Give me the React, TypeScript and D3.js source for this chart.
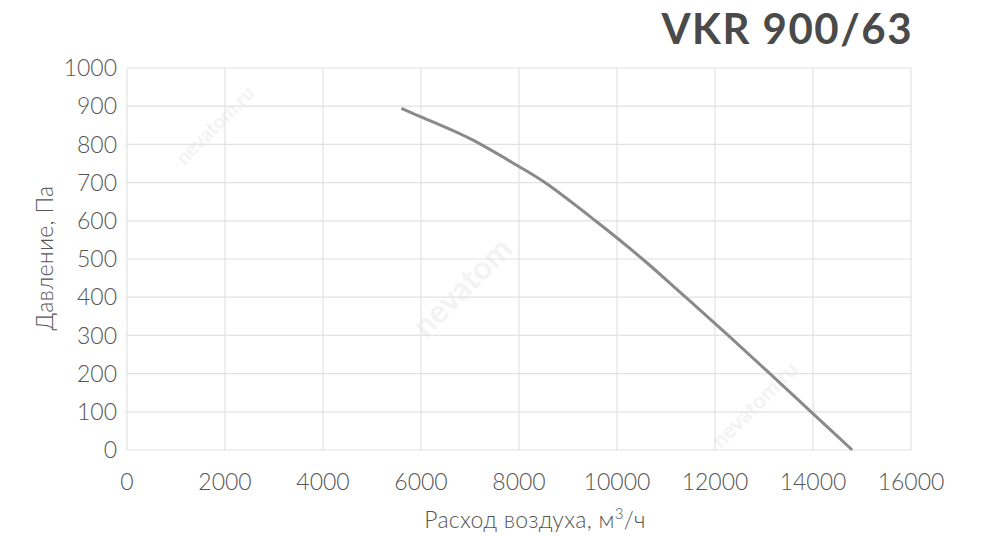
import React from "react";
import * as d3 from "d3";

const flow = [5600, 6000, 7000, 8000, 8530, 9560, 10520, 11400, 12270, 13120, 13960, 14800];
const pressure = [894, 872, 815, 742, 700, 600, 500, 400, 300, 200, 100, 0];
const xTicks = [0, 2000, 4000, 6000, 8000, 10000, 12000, 14000, 16000];
const yTicks = [0, 100, 200, 300, 400, 500, 600, 700, 800, 900, 1000];
const title = "VKR 900/63";
const xTitle = "Расход воздуха, м";
const yTitle = "Давление, Па";

const W = 984, H = 537;
const M = { left: 127, right: 911, top: 68, bottom: 450 };

export default function App() {
  const x = d3.scaleLinear().domain([0, 16000]).range([M.left, M.right]);
  const y = d3.scaleLinear().domain([0, 1000]).range([M.bottom, M.top]);
  const pts: [number, number][] = flow.map((f, i) => [f, pressure[i]]);
  const line = d3.line<[number, number]>().x(d => x(d[0])).y(d => y(d[1])).curve(d3.curveCatmullRom.alpha(0.5));
  const font = "'Lato', 'Open Sans', sans-serif";
  const wm = [
    { x: 220, y: 130, t: "nevatom.ru", s: 20 },
    { x: 470, y: 295, t: "nevatom", s: 32 },
    { x: 760, y: 410, t: "nevatom.ru", s: 22 },
  ];
  return (
    <svg width={W} height={H} style={{ position: "absolute", left: 0, top: 0, background: "#fff" }} fontFamily={font}>
      {wm.map((w, i) => (
        <text key={i} x={w.x} y={w.y} transform={`rotate(-45 ${w.x} ${w.y})`} fontSize={w.s} fill="#f3f3f3" fontWeight={700} textAnchor="middle">{w.t}</text>
      ))}
      {xTicks.map(t => (
        <line key={"gx" + t} x1={x(t)} x2={x(t)} y1={M.top} y2={M.bottom} stroke="#e2e2e2" strokeWidth={1.2} />
      ))}
      {yTicks.map(t => (
        <line key={"gy" + t} x1={M.left} x2={M.right} y1={y(t)} y2={y(t)} stroke="#e2e2e2" strokeWidth={1.2} />
      ))}
      <path d={line(pts) || ""} fill="none" stroke="#8a8a8a" strokeWidth={3} />
      {yTicks.map(t => (
        <text key={"ty" + t} x={117} y={y(t)} dy="0.36em" textAnchor="end" fontSize={23} fontWeight={300} fill="#555">{t}</text>
      ))}
      {xTicks.map(t => (
        <text key={"tx" + t} x={x(t)} y={490} textAnchor="middle" fontSize={23} fontWeight={300} fill="#555">{t}</text>
      ))}
      <text x={535} y={528} textAnchor="middle" fontSize={23} fontWeight={300} fill="#555" letterSpacing={0.3}>
        {xTitle}
        <tspan dy={-9} fontSize={15}>3</tspan>
        <tspan dy={9}>/ч</tspan>
      </text>
      <text transform={`translate(53 258) rotate(-90)`} textAnchor="middle" fontSize={23} fontWeight={300} fill="#555" letterSpacing={0.3}>{yTitle}</text>
      <text x={913} y={44} textAnchor="end" fontSize={42} fontWeight={700} fill="#4a4a4a" letterSpacing={1.5}>{title}</text>
    </svg>
  );
}
